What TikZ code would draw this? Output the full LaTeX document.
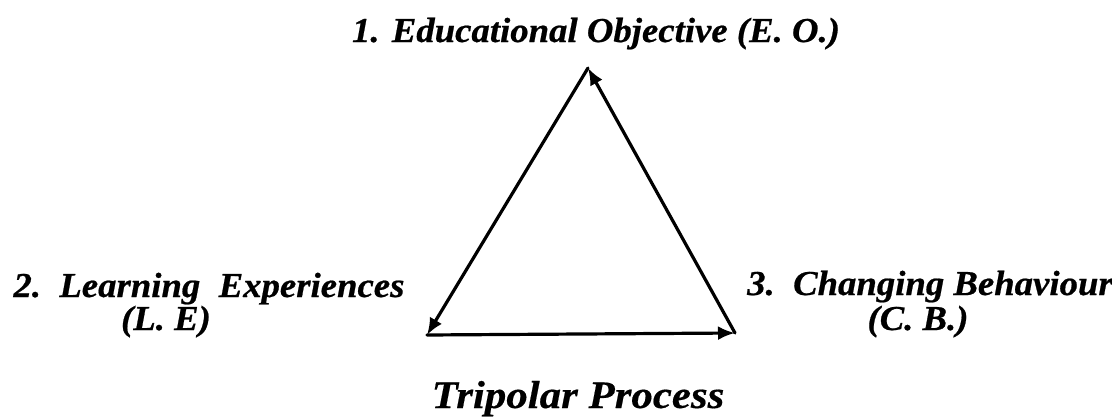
\documentclass[tikz,border=0pt]{standalone}
\usepackage{fontspec}
\setmainfont{Liberation Serif}
\newfontfamily\lblfont[FakeStretch=1.05,FakeBold=0.6]{Liberation Serif}
\newfontfamily\ttlfont[FakeStretch=1.10,FakeBold=0.4]{Liberation Serif}
\usetikzlibrary{arrows.meta}
\tikzset{
  lbl/.style={inner sep=0pt, font=\lblfont\fontsize{35}{38}\selectfont\bfseries\itshape},
  ttl/.style={inner sep=0pt, font=\ttlfont\fontsize{39}{42}\selectfont\bfseries\itshape},
  arr/.style={line width=3.2pt, -{Latex[length=17pt,width=14pt]}, line cap=round}
}
\begin{document}
\begin{tikzpicture}[x=1pt,y=-1pt]
\useasboundingbox (0,0) rectangle (1112,418);
\coordinate (A) at (588,68);
\coordinate (B) at (427,335);
\coordinate (C) at (735,333);
\draw[arr] (A) -- (B);
\draw[arr] (B) -- (C);
\draw[arr] (C) -- (A);
\node[lbl, anchor=base] (eo) at (596,42) {1. Educational Objective (E. O.)};
\node[lbl, anchor=base] (le1) at (209,297) {2.\ \ Learning\ \ Experiences};
\node[lbl, anchor=base] (le2) at (166,330) {(L. E)};
\node[lbl, anchor=base] (cb1) at (930,295) {3.\ \ Changing Behaviour};
\node[lbl, anchor=base] (cb2) at (918,330) {(C. B.)};
\node[ttl, anchor=base] (tp) at (578,408) {Tripolar Process};
\end{tikzpicture}
\end{document}
